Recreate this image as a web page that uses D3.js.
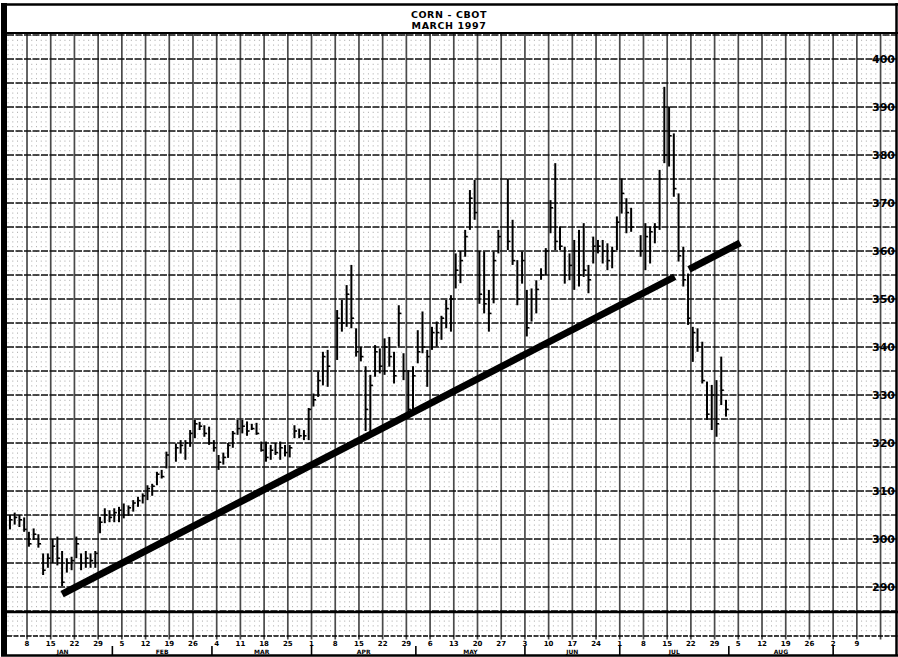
<!DOCTYPE html>
<html><head><meta charset="utf-8">
<script src="https://cdn.jsdelivr.net/npm/d3@7"></script>
<style>
html,body{margin:0;padding:0;background:#fff}
svg{display:block}
text{font-family:'DejaVu Sans','Liberation Sans',sans-serif;font-weight:bold;fill:#000}
</style></head><body>
<svg id="c" width="898" height="657"></svg>
<script>
// ---- data ----
const firstDay = "1996-01-02", lastDay = "1996-07-31";
const holidays = ["1996-02-19","1996-04-05","1996-05-27","1996-07-04"];
const highs = [
305,305.5,305,304.5,
301.5,302.2,301,297,297,
300,300.5,297.5,296,296.3,
300.5,297,297.5,297,297.5,
304.6,306.4,306,306.4,306.7,
307.4,307,308.1,308.8,309.5,
311.2,311.5,314,314.4,318.2,
319.9,320.6,320.6,322.7,
324.8,324.4,323.7,323.4,320.6,
317.5,318,320,322.5,324.8,
324.8,324.5,324,324.2,320.3,
320.3,319.6,320,320.3,319.6,
319.6,323.7,323,322.7,327.3,
330.3,334.9,339,339.4,
347.7,349.8,352.9,357.1,343.9,
340,336,334.2,340.4,339.7,
341.8,342.1,339,348.7,338.7,
335.2,336,343.5,347.4,339.4,
344.2,345.3,346.5,349.8,350.8,
359.5,360,364.4,372.7,374.8,
360,359.9,351.9,359.9,364.4,
375.1,366.5,358.1,359.9,
351.9,352.2,353.9,356.4,360.6,
370.6,378.3,365.1,360.9,359.5,
362.3,364.4,365.8,357.1,363,
362.3,362.3,361.6,360.9,367.2,
375.1,371,369,363.3,
365.8,365.1,365.8,376.9,394.2,
390.1,384.5,372,360.9,355.3,
344.2,343.9,341.1,332.8,332.1,
333.1,338,329];
const lows = [
302,303,302.5,301.5,
298.4,299.8,298.2,292.5,294,
295,294.5,290.2,293,293.5,
296,293.5,294,294,294,
301.2,303.3,303.5,303.5,303.5,
304.3,304.8,305.7,306.7,307.4,
308.1,309,311.2,312.6,314.7,
316.1,317.8,316.5,319.2,
321,322.7,321.3,319.6,318.2,
314.4,315.5,316.9,319,321.7,
322,321.5,322.7,321.7,318.2,
316.1,316.5,317.5,316.5,317.2,
317,321,321,320.6,320.6,
327.6,329.6,332,331.7,
337.3,343.2,344.2,343.9,338,
337,322.5,321.3,333.8,334.5,
334.2,335.9,332.4,340.1,333.1,
325.1,327,336.6,338.7,331.7,
339.4,340.1,341.5,343.9,343.2,
352.2,353.3,358.8,364.4,366.5,
349,347,343.2,349.1,359.5,
360.2,357.1,348.7,353.2,
342.2,345.3,347,354,355,
363.7,360.2,360.2,353.2,353.9,
351.9,352.6,354.6,351.2,357.4,
359.5,357.4,356,356.4,360.2,
367.8,363.7,364,358.8,
356,357.4,361.6,364.4,378.3,
377.6,371.3,357.8,352.6,344.6,
336.9,339,332.4,324.8,322.7,
321.3,327.9,325.5];
const closes = [
304,304.5,304,302,
299,301,299,293.5,296,
298.5,296,291,295,295.5,
299,295,296,295.5,297,
303.5,305,304.5,305.5,306,
305,306.5,307.5,308,309,
310.5,311,313.5,313,317.5,
319,319.5,320,322,
324,323.5,322,320,319,
316,317,319.5,322,323,
323.5,322.5,323,322,318.5,
317,318.5,318,319,318,
319,322.5,321.5,321.5,327,
329,333,338,336,
346,345,351,346,339,
338,327,332,339,336,
340,338,334,347,335,
327,334,339,340,338,
343,343,346,348,350,
356,358,363,371,368,
351,349,347,358,363,
362,358,350,358,
344,350,352,355,360,
369,362,361,355,357,
360,355,356,354,361,
361,360,358,360,366,
372,368,365,360,
363,364,365,375,380,
384,373,359,354,346,
343,340,333,326,330,
324,331,327];
const yTickLabels = [290,300,310,320,330,340,350,360,370,380,390,400];
const weekLabels = ["8","15","22","29","5","12","19","26","4","11","18","25","1","8","15","22","29","6","13","20","27","3","10","17","24","1","8","15","22","29","5","12","19","26","2","9"];
const monthNames = ["JAN","FEB","MAR","APR","MAY","JUN","JUL","AUG"];
const monthStarts = ["1996-01-01","1996-02-01","1996-03-01","1996-04-01","1996-05-01","1996-06-01","1996-07-01","1996-08-01","1996-09-01"];
const trendSlots = [12.4, 155.4];
const trendPrices = [288.5, 361.7];
const trendGapSlots = [141.6, 144.6];
const titleLines = ["CORN - CBOT","MARCH 1997"];

// ---- helpers ----
const base = Date.UTC(1996,0,1);
function slotOf(s){
  const [Y,M,D]=s.split("-").map(Number);
  let days = Math.round((Date.UTC(Y,M-1,D)-base)/86400000);
  let wk = Math.floor(days/7), dow = days%7;
  if (dow>=5){wk+=1;dow=0;}
  return wk*5+dow;
}
const dates=[];
{
  const [Y,M,D]=firstDay.split("-").map(Number);
  let t=Date.UTC(Y,M-1,D);
  const [Y2,M2,D2]=lastDay.split("-").map(Number);
  const tEnd=Date.UTC(Y2,M2-1,D2);
  while(t<=tEnd){
    const d=new Date(t); const w=d.getUTCDay();
    const s=d.toISOString().slice(0,10);
    if(w!==0&&w!==6&&!holidays.includes(s)) dates.push(s);
    t+=86400000;
  }
}
const bars = dates.map((d,i)=>({slot:slotOf(d),h:highs[i],l:lows[i],c:closes[i]}));

// ---- layout ----
const svg=d3.select("#c");
const plotL=7, plotR=896, plotT=33, plotB=612, lowB=636, W=898, H=657;
const x=d3.scaleLinear().domain([0,185]).range([3.3,3.3+185*4.742]);
const y=d3.scaleLinear().domain([290,400]).range([587,59]);

svg.append("rect").attr("width",W).attr("height",H).attr("fill","#fff");

const g=svg.append("g");
// dotted day columns
const daySlots=d3.range(1,188).filter(s=>s%5!==0);
g.selectAll("line.dot").data(daySlots).join("line")
  .attr("x1",s=>x(s)).attr("x2",s=>x(s))
  .attr("y1",plotT+2).attr("y2",lowB)
  .attr("stroke","#9a9a9a").attr("stroke-width",0.9)
  .attr("stroke-dasharray","1,3.8");
// weekly verticals
const weekSlots=d3.range(0,188,5);
g.selectAll("line.wk").data(weekSlots).join("line")
  .attr("x1",s=>x(s)).attr("x2",s=>x(s))
  .attr("y1",plotT).attr("y2",lowB+3.5)
  .attr("stroke","#4a4a4a").attr("stroke-width",1.7);
// horizontal every 5
const hVals=d3.range(285,406,5);
g.selectAll("line.h").data(hVals).join("line")
  .attr("x1",plotL).attr("x2",plotR)
  .attr("y1",v=>y(v)).attr("y2",v=>y(v))
  .attr("stroke","#111").attr("stroke-width",1.3)
  .attr("stroke-dasharray","7,1.5");

// y labels
svg.selectAll("text.yl").data(yTickLabels).join("text")
  .attr("x",895).attr("y",v=>y(v)).attr("dy","0.36em")
  .attr("text-anchor","end").attr("font-size",11).text(v=>v);

// bars
const bg=svg.append("g");
bg.selectAll("line.bar").data(bars).join("line")
  .attr("x1",d=>x(d.slot+0.4)).attr("x2",d=>x(d.slot+0.4))
  .attr("y1",d=>y(d.h)).attr("y2",d=>y(d.l))
  .attr("stroke","#000").attr("stroke-width",2);
bg.selectAll("line.cl").data(bars).join("line")
  .attr("x1",d=>x(d.slot+0.4)).attr("x2",d=>x(d.slot+0.4)+2.6)
  .attr("y1",d=>y(d.c)).attr("y2",d=>y(d.c))
  .attr("stroke","#000").attr("stroke-width",1.6);

// trend line with gap
const tSlope=(trendPrices[1]-trendPrices[0])/(trendSlots[1]-trendSlots[0]);
const tAt=s=>trendPrices[0]+tSlope*(s-trendSlots[0]);
const segs=[[trendSlots[0],trendGapSlots[0]],[trendGapSlots[1],trendSlots[1]]];
svg.selectAll("line.tr").data(segs).join("line")
  .attr("x1",d=>x(d[0])).attr("y1",d=>y(tAt(d[0])))
  .attr("x2",d=>x(d[1])).attr("y2",d=>y(tAt(d[1])))
  .attr("stroke","#000").attr("stroke-width",7).attr("stroke-linecap","butt");

// frame lines
const fr=svg.append("g");
fr.append("rect").attr("x",1).attr("y",3).attr("width",6).attr("height",652).attr("fill","#000");
fr.append("line").attr("x1",1).attr("x2",898).attr("y1",4.5).attr("y2",4.5).attr("stroke","#000").attr("stroke-width",2.5);
fr.append("line").attr("x1",plotL).attr("x2",898).attr("y1",plotT).attr("y2",plotT).attr("stroke","#000").attr("stroke-width",2);
fr.append("line").attr("x1",896.5).attr("x2",896.5).attr("y1",3).attr("y2",656).attr("stroke","#000").attr("stroke-width",2.5);
fr.append("line").attr("x1",plotL).attr("x2",898).attr("y1",plotB).attr("y2",plotB).attr("stroke","#000").attr("stroke-width",2.6);
fr.append("line").attr("x1",plotL).attr("x2",898).attr("y1",lowB).attr("y2",lowB).attr("stroke","#000").attr("stroke-width",1.4).attr("stroke-dasharray","5,1.5");
fr.append("line").attr("x1",1).attr("x2",898).attr("y1",655.5).attr("y2",655.5).attr("stroke","#000").attr("stroke-width",2.5);

// title
svg.selectAll("text.tt").data(titleLines).join("text")
  .attr("x",449).attr("y",(d,i)=>17.5+i*11.5)
  .attr("text-anchor","middle").attr("font-size",9.5)
  .attr("letter-spacing",0.6).text(d=>d);

// week labels
svg.selectAll("text.wl").data(weekLabels).join("text")
  .attr("x",(d,i)=>x((i+1)*5)).attr("y",645.5)
  .attr("text-anchor","middle").attr("font-size",7).text(d=>d);

// month separators & labels
const mSlots=monthStarts.map(slotOf);
svg.selectAll("line.ms").data(mSlots.slice(1)).join("line")
  .attr("x1",s=>x(s)).attr("x2",s=>x(s))
  .attr("y1",646).attr("y2",655)
  .attr("stroke","#000").attr("stroke-width",1.6);
svg.selectAll("text.ml").data(monthNames).join("text")
  .attr("x",(d,i)=>i===0?(x(mSlots[1])+plotL)/2+3:(x(mSlots[i])+x(mSlots[i+1]))/2)
  .attr("y",653.5).attr("text-anchor","middle").attr("font-size",6).text(d=>d);
</script>
</body></html>
